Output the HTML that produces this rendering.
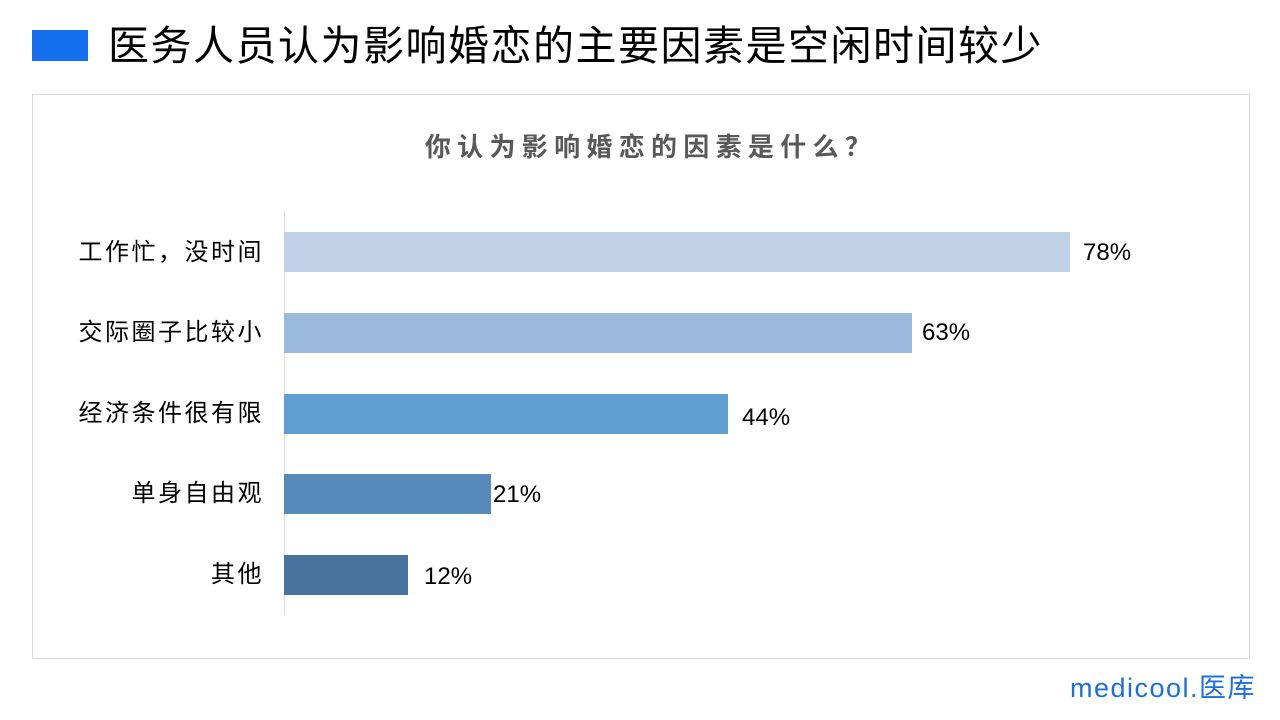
<!DOCTYPE html>
<html><head><meta charset="utf-8"><style>
body{margin:0;width:1280px;height:720px;background:#fff;position:relative;overflow:hidden;font-family:"Liberation Sans","Noto Sans CJK SC",sans-serif}
.a{position:absolute}
.lab{position:absolute;right:1016px;font-size:24px;letter-spacing:2.5px;color:#000;line-height:28px;white-space:nowrap}
.v{position:absolute;font-size:24px;color:#000;line-height:28px}
.bar{position:absolute;left:284px;height:40px}
</style></head><body>
<div class="a" style="left:108px;top:20px;font-size:41px;letter-spacing:1.5px;line-height:52px;color:#000;white-space:nowrap">医务人员认为影响婚恋的主要因素是空闲时间较少</div>
<div class="a" style="left:32px;top:30px;width:56px;height:31px;background:#1570ef"></div>
<div class="a" style="left:32px;top:94px;width:1216px;height:563px;border:1px solid #d9d9d9"></div>
<div class="a" style="left:0;width:1302px;top:131px;text-align:center;font-size:26px;font-weight:bold;color:#595959;letter-spacing:6.3px;line-height:32px">你认为影响婚恋的因素是什么？</div>
<div class="a" style="left:284px;top:212px;width:1px;height:403px;background:#d9d9d9"></div>
<div class="bar" style="top:232px;width:786px;background:#c1d1e8"></div>
<div class="bar" style="top:313px;width:628px;background:#9bb9dd"></div>
<div class="bar" style="top:394px;width:444px;background:#609ed2"></div>
<div class="bar" style="top:474px;width:207px;background:#568ab9"></div>
<div class="bar" style="top:555px;width:124px;background:#48739d"></div>
<div class="lab" style="top:239px">工作忙，没时间</div>
<div class="lab" style="top:319px">交际圈子比较小</div>
<div class="lab" style="top:400px">经济条件很有限</div>
<div class="lab" style="top:480px">单身自由观</div>
<div class="lab" style="top:561px">其他</div>
<div class="v" style="left:1083px;top:239px">78%</div>
<div class="v" style="left:922px;top:319px">63%</div>
<div class="v" style="left:742px;top:404px">44%</div>
<div class="v" style="left:493px;top:481px">21%</div>
<div class="v" style="left:424px;top:563px">12%</div>
<div class="a" style="left:1070px;top:672px;font-size:27px;color:#1a6fe0;line-height:32px;white-space:nowrap;letter-spacing:1.5px">medicool.医库</div>
</body></html>
